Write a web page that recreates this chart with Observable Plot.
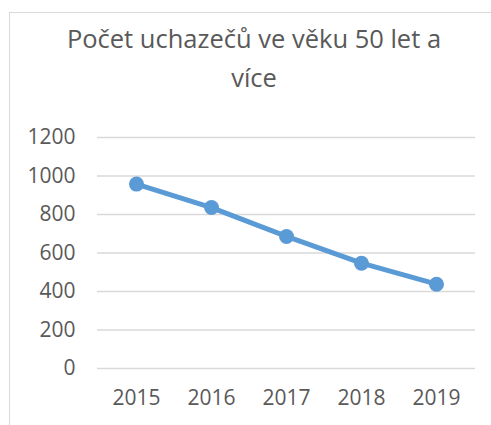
<!DOCTYPE html>
<html>
<head>
<meta charset="utf-8">
<script src="https://cdn.jsdelivr.net/npm/d3@7"></script>
<script src="https://cdn.jsdelivr.net/npm/@observablehq/plot@0.6"></script>
<style>
  html, body { margin: 0; padding: 0; background: #fff; overflow: hidden; }
  #page { position: relative; width: 491px; height: 425px; overflow: hidden; }
  #frame { position: absolute; left: 9px; top: 12px; width: 490px; height: 430px; border: 1.5px solid #d9d9d9; box-sizing: border-box; }
  #title { position: absolute; left: 9px; top: 19px; width: 490px; text-align: center; font-family: "Open Sans", sans-serif; font-size: 25.5px; line-height: 39px; color: #595959; }
  #chart { position: absolute; left: 0; top: 110px; }
</style>
</head>
<body>
<div id="page">
  <div id="frame"></div>
  <div id="title">Počet uchazečů ve věku 50 let a<br>více</div>
  <div id="chart"></div>
</div>
<script>
const years = ["2015", "2016", "2017", "2018", "2019"];
const counts = [958, 836, 686, 547, 438];
const yTicks = [0, 200, 400, 600, 800, 1000, 1200];

const data = years.map((y, i) => ({year: y, count: counts[i]}));

const chart = Plot.plot({
  width: 491,
  height: 315,
  marginLeft: 97,
  marginRight: 16,
  marginTop: 27,
  marginBottom: 57,
  style: {fontFamily: "Open Sans, sans-serif", fontSize: "21px", color: "#595959", background: "transparent"},
  x: {type: "point", domain: years, padding: 0.5, label: null},
  y: {domain: [0, 1200], label: null},
  marks: [
    Plot.gridY(yTicks, {stroke: "#d9d9d9", strokeOpacity: 1, strokeWidth: 1.5}),
    Plot.axisY(yTicks, {tickSize: 0, tickPadding: 22, tickFormat: d3.format("d"), fill: "#595959", fontSize: 21, label: null}),
    Plot.axisX(years, {tickSize: 0, tickPadding: 22, fill: "#595959", fontSize: 21, label: null}),
    Plot.line(data, {x: "year", y: "count", stroke: "#5B9BD5", strokeWidth: 5}),
    Plot.dot(data, {x: "year", y: "count", fill: "#5B9BD5", r: 7.5})
  ]
});
document.getElementById("chart").appendChild(chart);
</script>
</body>
</html>
